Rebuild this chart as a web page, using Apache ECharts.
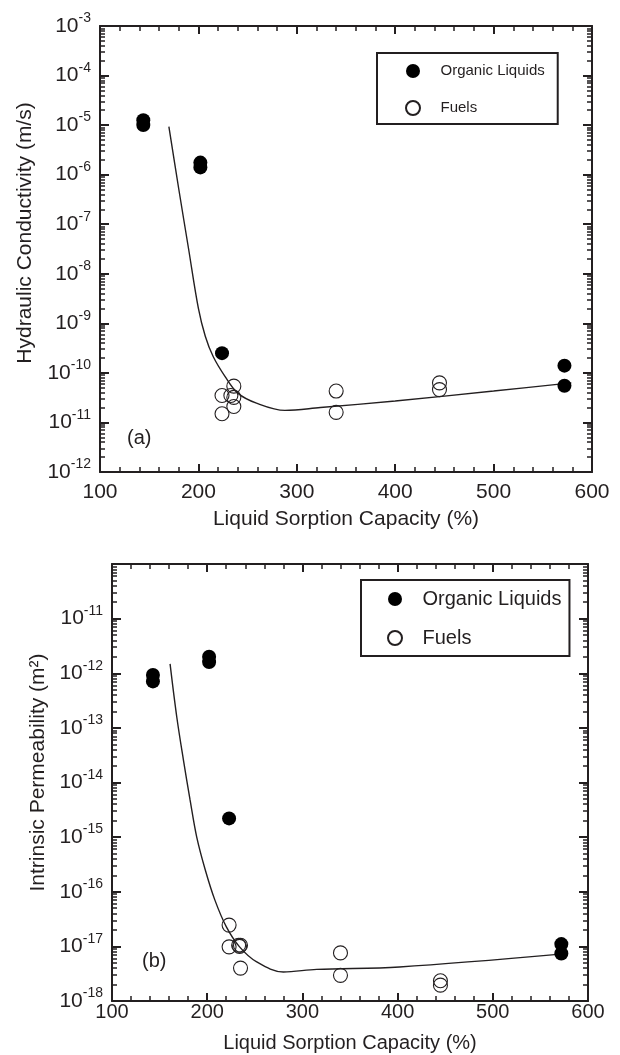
<!DOCTYPE html>
<html>
<head>
<meta charset="utf-8">
<title>Liquid sorption capacity</title>
<script src="https://cdn.jsdelivr.net/npm/echarts@6/dist/echarts.min.js"></script>
<style>
    html, body { margin: 0; padding: 0; background: #fff; }
    #chart { width: 620px; height: 1055px; }
</style>
</head>
<body>
<div id="chart"></div>
<script>
    // x: liquid sorption capacity (%)
    var xMin = 100, xMax = 600, xStep = 100;

    // (a) hydraulic conductivity (m/s)
    var organicK = [[144, 1.25e-5], [144, 1.0e-5], [202, 1.75e-6], [202, 1.4e-6],
        [224, 2.5e-10], [572, 1.4e-10], [572, 5.5e-11]];
    var fuelsK = [[224, 3.5e-11], [224, 1.5e-11], [236, 5.4e-11], [233, 3.5e-11],
        [236, 3.2e-11], [236, 2.1e-11], [340, 4.3e-11], [340, 1.6e-11],
        [445, 6.3e-11], [445, 4.6e-11]];
    var fitK = [[170, 9.3e-6], [180, 5.2e-7], [190, 3.2e-8], [200, 2.0e-9],
        [207, 5.5e-10], [215, 2.14e-10], [227, 8.5e-11], [240, 3.9e-11], [259, 2.45e-11],
        [288, 1.75e-11], [324, 2.0e-11], [400, 2.7e-11], [500, 4.3e-11], [579, 6.3e-11]];

    // (b) intrinsic permeability (m2)
    var organicP = [[143, 9.3e-13], [143, 7.1e-13], [202, 2.0e-12], [202, 1.6e-12],
        [223, 2.2e-15], [572, 1.1e-17], [572, 7.4e-18]];
    var fuelsP = [[223, 2.45e-17], [223, 9.8e-18], [233, 1.05e-17], [235, 1.05e-17],
        [234, 1.0e-17], [235, 4.0e-18], [340, 7.6e-18], [340, 2.95e-18],
        [445, 2.35e-18], [445, 1.95e-18]];
    var fitP = [[161, 1.48e-12], [168, 1.6e-13], [175, 2.6e-14], [182, 4.8e-15], [189, 1.0e-15],
        [198, 2.5e-16], [208, 7.1e-17], [220, 2.3e-17], [234, 9.8e-18], [252, 5.2e-18],
        [280, 3.4e-18], [315, 3.8e-18], [402, 4.2e-18], [571, 7.2e-18]];

    // y ranges (decades)
    var kRange = [1e-12, 1e-3];
    var pRange = [1e-18, 1e-10];

    var ink = '#231f20';
    var font = '"Liberation Sans", Arial, Helvetica, sans-serif';

    // 2,3,...9 x 10^n tick marks between the decades
    function minorLog(range) {
        var out = [];
        var lo = Math.round(Math.log10(range[0]));
        var hi = Math.round(Math.log10(range[1]));
        for (var e = lo; e < hi; e++) {
            for (var k = 2; k <= 9; k++) {
                out.push(k * Math.pow(10, e));
            }
        }
        return out;
    }

    function powLabel(hidden) {
        return function (v) {
            var e = Math.round(Math.log10(v));
            if (e === hidden) return '';
            return '{b|10}{s|' + e + '}';
        };
    }

    function xAx(grid, pos, showLabel, fs, nameGap, labelMargin) {
        return {
            type: 'value', gridIndex: grid, position: pos,
            min: xMin, max: xMax, interval: xStep,
            name: showLabel ? 'Liquid Sorption Capacity (%)' : '',
            nameLocation: 'middle', nameGap: nameGap,
            nameTextStyle: {color: ink, fontFamily: font, fontSize: fs},
            axisLine: {show: true, onZero: false, lineStyle: {color: ink, width: 2}},
            axisTick: {show: true, inside: true, length: 8, lineStyle: {color: ink, width: 2}},
            minorTick: {show: true, splitNumber: 5, length: 5, lineStyle: {color: ink, width: 1.5}},
            axisLabel: {show: showLabel, color: ink, fontFamily: font, fontSize: fs, margin: labelMargin},
            splitLine: {show: false}
        };
    }

    function yAx(grid, pos, range, label, hidden, name, nameGap, namePad) {
        return {
            type: 'log', logBase: 10, gridIndex: grid, position: pos,
            min: range[0], max: range[1], splitNumber: Math.round(Math.log10(range[1] / range[0])),
            name: label ? name : '',
            nameLocation: 'middle', nameGap: nameGap,
            nameTextStyle: {color: ink, fontFamily: font, fontSize: 21, padding: namePad},
            axisLine: {show: true, onZero: false, lineStyle: {color: ink, width: 2}},
            axisTick: {show: true, inside: true, length: 9, lineStyle: {color: ink, width: 2}},
            axisLabel: {
                show: label, margin: 9, formatter: powLabel(hidden),
                rich: {
                    b: {color: ink, fontFamily: font, fontSize: 21, lineHeight: 21, verticalAlign: 'middle'},
                    s: {color: ink, fontFamily: font, fontSize: 14, lineHeight: 29, verticalAlign: 'top'}
                }
            },
            splitLine: {show: false}
        };
    }

    function yMinor(grid, pos, range) {
        return {
            type: 'log', logBase: 10, gridIndex: grid, position: pos,
            min: range[0], max: range[1],
            axisLine: {show: false},
            axisTick: {show: true, inside: true, length: 5, customValues: minorLog(range),
                lineStyle: {color: ink, width: 1.5}},
            axisLabel: {show: false},
            splitLine: {show: false}
        };
    }

    function pts(name, data, xi, yi, filled) {
        return {
            name: name, type: 'scatter', xAxisIndex: xi, yAxisIndex: yi,
            data: data, symbol: 'circle', symbolSize: 14, z: filled ? 5 : 4,
            itemStyle: filled
                ? {color: '#000', borderColor: '#000', borderWidth: 0, opacity: 1}
                : {color: 'rgba(0,0,0,0)', borderColor: ink, borderWidth: 1.1, opacity: 1}
        };
    }

    function fit(data, xi, yi) {
        return {
            name: 'fit', type: 'line', xAxisIndex: xi, yAxisIndex: yi, data: data,
            showSymbol: false, smooth: 0.35, z: 3,
            lineStyle: {color: ink, width: 1.4}
        };
    }

    function legendBox(left, top, pad, fs, lh, gap) {
        return {
            orient: 'vertical', left: left, top: top, padding: pad,
            data: ['Organic Liquids', 'Fuels'],
            itemWidth: 45, itemHeight: 14, itemGap: gap,
            borderColor: ink, borderWidth: 2, borderRadius: 0, backgroundColor: '#fff',
            textStyle: {color: ink, fontFamily: font, fontSize: fs, lineHeight: lh},
            selectedMode: false
        };
    }

    var chart = echarts.init(document.getElementById('chart'), null, {renderer: 'canvas'});
    chart.setOption({
        animation: false,
        backgroundColor: '#fff',
        grid: [
            {left: 100, top: 26, width: 492, height: 446},
            {left: 112, top: 564, width: 476, height: 437}
        ],
        xAxis: [
            xAx(0, 'bottom', true, 21, 37, 10),
            xAx(0, 'top', false, 21, 0, 10),
            xAx(1, 'bottom', true, 20, 32, 1),
            xAx(1, 'top', false, 20, 0, 1)
        ],
        yAxis: [
            yAx(0, 'left', kRange, true, null, 'Hydraulic Conductivity (m/s)', 64, [0, 0, 0, 32]),
            yAx(0, 'right', kRange, false, null, '', 0, 0),
            yMinor(0, 'left', kRange),
            yMinor(0, 'right', kRange),
            yAx(1, 'left', pRange, true, -10, 'Intrinsic Permeability (m\u00b2)', 62, [0, 0, 0, 20]),
            yAx(1, 'right', pRange, false, -10, '', 0, 0),
            yMinor(1, 'left', pRange),
            yMinor(1, 'right', pRange)
        ],
        legend: [
            legendBox(377, 53, [9, 13, 7, 28], 15, 18, 19),
            legendBox(361, 580, [7, 8, 6, 26], 20, 24, 15)
        ],
        graphic: [
            {type: 'text', left: 127, top: 428, style: {text: '(a)', fill: ink, font: '20px ' + font}},
            {type: 'text', left: 142, top: 951, style: {text: '(b)', fill: ink, font: '20px ' + font}}
        ],
        series: [
            fit(fitK, 0, 0),
            pts('Fuels', fuelsK, 0, 0, false),
            pts('Organic Liquids', organicK, 0, 0, true),
            fit(fitP, 2, 4),
            pts('Fuels', fuelsP, 2, 4, false),
            pts('Organic Liquids', organicP, 2, 4, true)
        ]
    });
</script>
</body>
</html>
